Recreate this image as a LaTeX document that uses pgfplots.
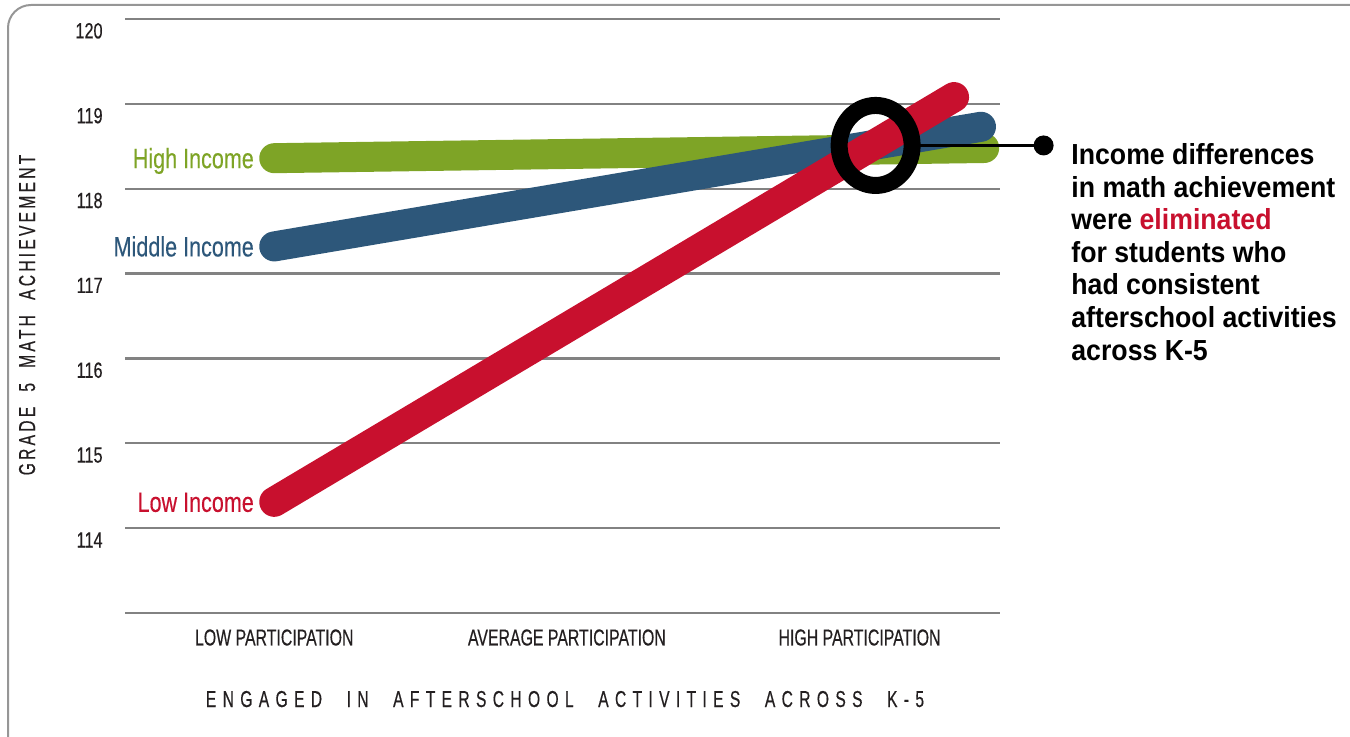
\documentclass[border=0pt]{standalone}
\usepackage{fontspec}
\setmainfont{Liberation Sans}
\newfontfamily\condf[FakeStretch=0.69,FakeBold=0.4]{Liberation Sans}
\newfontfamily\numf[FakeStretch=0.74,FakeBold=0.4]{Liberation Sans}
\newfontfamily\serf[FakeStretch=0.77,FakeBold=0.3]{Liberation Sans}
\newfontfamily\xlabf[FakeStretch=0.68,FakeBold=0.4,LetterSpace=27.5,WordSpace=2.3]{Liberation Sans}
\newfontfamily\ylabf[FakeStretch=0.68,FakeBold=0.4,LetterSpace=14,WordSpace=2]{Liberation Sans}
\newfontfamily\annf[FakeStretch=0.92]{Liberation Sans}
\usepackage{pgfplots}
\pgfplotsset{compat=1.18}
\definecolor{hi}{RGB}{126,164,38}
\definecolor{mid}{RGB}{45,87,122}
\definecolor{lo}{RGB}{200,16,46}
\definecolor{gridgray}{RGB}{130,130,130}
\definecolor{bordergray}{RGB}{150,150,150}
\definecolor{txt}{RGB}{35,31,32}
\begin{document}
\begin{tikzpicture}
\draw[bordergray, line width=1pt] (4pt,-368.5pt) -- (4pt,-14pt) arc[start angle=180,end angle=90,radius=11.5pt] -- (675pt,-2.5pt);
\begin{axis}[
  at={(62.5pt,-306.5pt)}, anchor=south west,
  scale only axis, width=437.5pt, height=297pt,
  xmin=-0.51, xmax=2.48, ymin=113, ymax=120,
  axis line style={draw=none},
  major tick length=0pt,
  xtick={0,1,2},
  xticklabels={LOW PARTICIPATION, AVERAGE PARTICIPATION, HIGH PARTICIPATION},
  xticklabel style={font=\condf\fontsize{11.5}{12}\selectfont, text=txt, anchor=north, inner sep=0pt, yshift=-8pt},
  ytick={113,114,...,120},
  yticklabels={{},114,115,116,117,118,119,120},
  yticklabel style={font=\numf\fontsize{11}{12}\selectfont, text=txt, anchor=east, inner sep=0pt, xshift=-11pt, yshift=-5.9pt},
  ymajorgrids,
  grid style={gridgray, line width=1.1pt},
  clip=false,
]
\addplot[hi, line width=15pt, line cap=round, mark=none] coordinates {(0,118.36) (2.426,118.48)};
\addplot[mid, line width=15pt, line cap=round, mark=none] coordinates {(0,117.32) (2.415,118.73)};
\addplot[lo, line width=15pt, line cap=round, mark=none] coordinates {(0,114.31) (2.323,119.08)};
\node[anchor=base east, inner sep=0pt, text=hi, font=\serf\fontsize{14}{14}\selectfont, xshift=-10pt, yshift=-5pt] at (axis cs:0,118.36) {High Income};
\node[anchor=base east, inner sep=0pt, text=mid, font=\serf\fontsize{14}{14}\selectfont, xshift=-10pt, yshift=-5pt] at (axis cs:0,117.32) {Middle Income};
\node[anchor=base east, inner sep=0pt, text=lo, font=\serf\fontsize{14}{14}\selectfont, xshift=-10pt, yshift=-5pt] at (axis cs:0,114.31) {Low Income};
\draw[black, line width=8.5pt] (axis cs:2.055,118.51) ellipse [x radius=18.25pt, y radius=20pt];
\draw[black, line width=1.5pt] (axis cs:2.17,118.51) -- (axis cs:2.629,118.51);
\fill[black] (axis cs:2.629,118.51) circle[radius=5pt];
\end{axis}
\node[anchor=north west, inner sep=0pt, align=left, text=black, font=\annf\bfseries\fontsize{14.5}{16.3}\selectfont] at (535.5pt,-71.5pt)
 {Income differences\\in math achievement\\were \textcolor{lo}{eliminated}\\for students who\\had consistent\\afterschool activities\\across K-5};
\node[anchor=base, inner sep=0pt, text=txt, font=\xlabf\fontsize{11.5}{12}\selectfont] at (282.5pt,-353.5pt) {ENGAGED IN AFTERSCHOOL ACTIVITIES ACROSS K-5};
\node[anchor=base, rotate=90, inner sep=0pt, text=txt, font=\ylabf\fontsize{11.5}{12}\selectfont] at (17.5pt,-157.5pt) {GRADE 5 MATH ACHIEVEMENT};
\pgfresetboundingbox
\useasboundingbox (0pt,0pt) rectangle (675pt,-368.5pt);
\end{tikzpicture}
\end{document}
